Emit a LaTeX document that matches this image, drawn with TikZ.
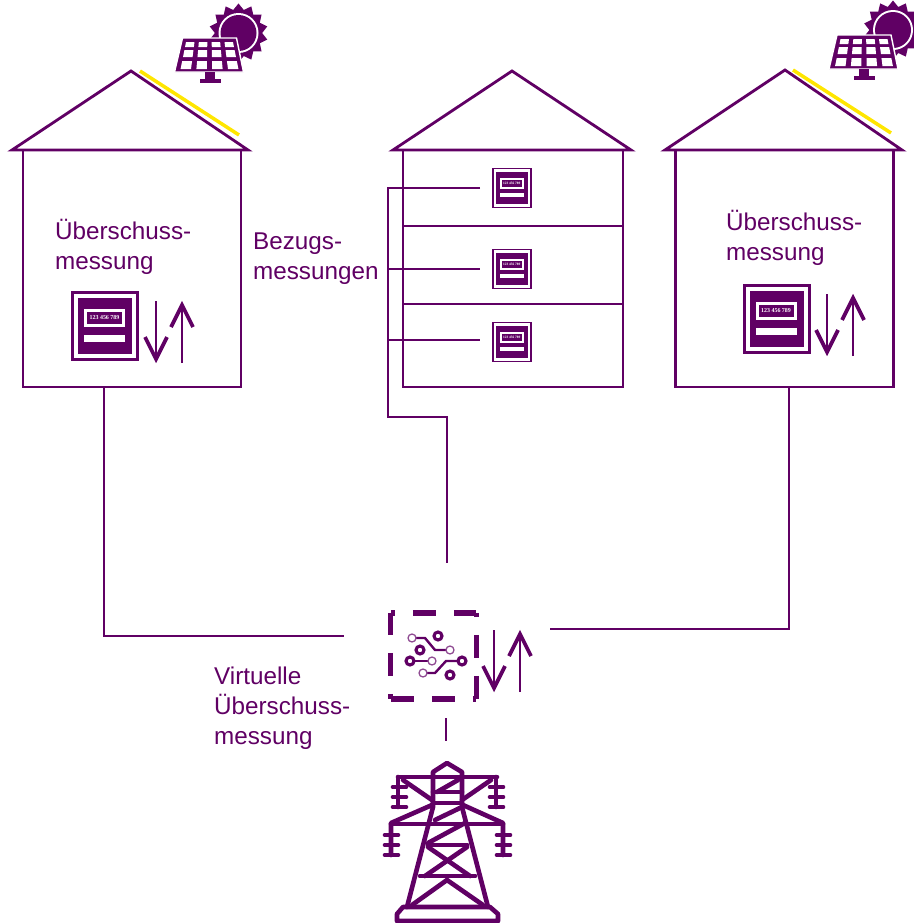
\documentclass[tikz,border=0pt]{standalone}
\usepackage{fontspec}
\setmainfont{Liberation Sans}
\newfontfamily\readoutfont{Liberation Serif}
\usetikzlibrary{shapes.geometric}
\definecolor{lila}{RGB}{96,0,100}
\definecolor{sonne}{RGB}{255,230,0}
\tikzset{
	wire/.style={draw=lila,line width=4pt},
	wall/.style={wire,rectangle,inner sep=0pt,outer sep=0pt},
	tag/.style={text=lila,align=left,anchor=west,inner sep=0pt,font=\fontsize{34.5}{42.5}\selectfont},
	mast/.style={draw=lila,line width=6.6pt,line cap=round,line join=round},
	smartdash/.style={draw=lila,line width=7.5pt,dash pattern=on 32.7pt off 25.6pt},
	meter/.pic={
		\fill [lila] (-34,35) rectangle (34,-35);
		\fill [white] (-31,32) rectangle (31,-32);
		\fill [lila] (-27,28) rectangle (27,-28);
		\fill [white] (-21,17) rectangle (20,-1);
		\fill [lila] (-18,14) rectangle (17,2);
		\node [transform shape,text=white,inner sep=0pt,font=\readoutfont\bfseries\fontsize{8.5}{8.5}\selectfont] (-readout) at (-0.5,8) {123 456 789};
		\fill [white] (-21,-9) rectangle (20,-16);
	},
	flowarrows/.pic={
		\draw [lila,line width=3.6pt] (0,0) -- (0,-60);
		\draw [lila,line width=5.4pt,line join=miter] (-11,-36) -- (0,-58) -- (11,-36);
		\draw [lila,line width=3.6pt] (26,-62) -- (26,-2);
		\draw [lila,line width=5.4pt,line join=miter] (15,-26) -- (26,-4) -- (37,-26);
	},
	solar/.pic={
		\node [star,star points=14,star point ratio=1.25,minimum size=84pt,inner sep=0pt,fill=lila] (-rays) at (29,22) {};
		\fill [white] (29,22) circle (20);
		\fill [lila] (29,22) circle (18);
		\fill [lila,draw=white,line width=2pt] (-27,17) -- (27,17) -- (34,-17) -- (-35,-17) -- cycle;
		\foreach \a/\b in {42/47,50/57,61/69}
			\foreach \c in {-2,-1,0,1}
				\fill [white] ({(\c+.17)/2*(25+.22*(\a-39))},{55-\a}) -- ({(\c+.83)/2*(25+.22*(\a-39))},{55-\a}) -- ({(\c+.83)/2*(25+.22*(\b-39))},{55-\b}) -- ({(\c+.17)/2*(25+.22*(\b-39))},{55-\b}) -- cycle;
		\fill [lila] (-5,-17) rectangle (5,-25);
		\fill [lila] (-10,-24) rectangle (11,-28);
	},
}
\begin{document}
\begin{tikzpicture}[x=0.05cm,y=0.05cm]
	\useasboundingbox (0,0) rectangle (914,-923);

	\draw [sonne,line width=5pt] (140,-71) -- (239,-135);
	\draw [sonne,line width=5pt] (793,-70) -- (891,-133);
	\draw [wire,line join=miter] (12,-150) -- (131,-71) -- (248,-150) -- cycle;
	\draw [wire,line join=miter] (393,-150) -- (512,-71) -- (631,-150) -- cycle;
	\draw [wire,line join=miter] (665,-150) -- (785,-70) -- (902,-150) -- cycle;
	\node [wall,minimum width=310pt,minimum height=337pt] (wallL) at (132,-268.5) {};
	\node [wall,minimum width=313pt,minimum height=337pt] (wallM) at (513,-268.5) {};
	\node [wall,minimum width=311pt,minimum height=337pt] (wallR) at (784.5,-268.5) {};
	\draw [wire] (403,-226) -- (623,-226);
	\draw [wire] (403,-304) -- (623,-304);

	\pic at (209.5,-55) {solar};
	\pic at (864,-52) {solar};

	\pic (meterL) at (105,-326) {meter};
	\pic (meterR) at (776.5,-319) {meter};
	\pic (meterA) [scale=0.58] at (512,-188) {meter};
	\pic (meterB) [scale=0.58] at (512,-269) {meter};
	\pic (meterC) [scale=0.58] at (512,-342) {meter};

	\pic at (156,-301) {flowarrows};
	\pic at (827,-294) {flowarrows};
	\pic at (494,-630) {flowarrows};

	\node [tag] (textL) at (55,-246.5) {Überschuss-\\messung};
	\node [tag] (textM) at (253,-259) {Bezugs-\\messungen};
	\node [tag] (textR) at (726,-238) {Überschuss-\\messung};
	\node [tag] (textV) at (214,-708) {Virtuelle\\Überschuss-\\messung};

	\coordinate (busA) at (388,-188);
	\coordinate (busB) at (388,-269);
	\coordinate (busC) at (388,-340);
	\coordinate (busD) at (388,-417);
	\coordinate (stubA) at (480,-188);
	\coordinate (stubB) at (480,-269);
	\coordinate (stubC) at (480,-340);
	\coordinate (kneeM) at (447,-417);
	\coordinate (endM) at (447,-563);
	\coordinate (kneeL) at (104,-636);
	\coordinate (endL) at (344,-636);
	\coordinate (kneeR) at (789,-629);
	\coordinate (endR) at (550,-629);
	\coordinate (gridA) at (446,-718);
	\coordinate (gridB) at (446,-741);

	\draw [wire] (stubA) -- (busA) -- (busD) -- (kneeM) -- (endM);
	\draw [wire] (busB) -- (stubB);
	\draw [wire] (busC) -- (stubC);
	\draw [wire] (wallL.south -| kneeL) -- (kneeL) -- (endL);
	\draw [wire] (wallR.south -| kneeR) -- (kneeR) -- (endR);
	\draw [wire] (gridA) -- (gridB);

	\node [rectangle,inner sep=0pt,minimum width=121pt,minimum height=122pt] (smart) at (433.5,-656) {};
	\draw [smartdash,dash phase=27pt] (smart.north west) -- (smart.north east);
	\draw [smartdash,dash phase=27pt] (smart.north east) -- (smart.south east);
	\draw [smartdash,dash phase=1.4pt] (smart.north west) -- (smart.south west);
	\draw [smartdash] (smart.south west) -- (smart.south east);

	\draw [lila,line width=3.4pt] (412,-638) -- (425,-638) -- (435,-650) -- (450,-650);
	\draw [lila,line width=3.4pt] (410,-661) -- (432,-661);
	\draw [lila,line width=3.4pt] (423,-673) -- (435,-673) -- (446,-661) -- (462,-661);
	\foreach \x/\y in {412/638,450/650,432/661,423/673}
		\draw [lila!70,fill=white,line width=1.8pt] (\x,-\y) circle (4);
	\foreach \x/\y in {438/636,420/650,410/661,462/661,450/675}
		\draw [lila,fill=white,line width=4.4pt] (\x,-\y) circle (4);

	\draw [mast] (433,-777) -- (433,-772) -- (447,-763) -- (462,-772) -- (462,-777);
	\draw [mast] (398,-777) -- (497,-777);
	\draw [mast] (398,-777) -- (398,-807);
	\draw [mast] (496,-777) -- (496,-807);
	\foreach \y in {787,797,807} {
		\draw [mast] (393,-\y) -- (406,-\y);
		\draw [mast] (490,-\y) -- (503,-\y);
	}
	\draw [mast] (403,-780) -- (432,-800);
	\draw [mast] (491,-780) -- (462,-800);
	\draw [mast] (433,-777) -- (433,-807) -- (407,-907);
	\draw [mast] (462,-777) -- (462,-807) -- (488,-907);
	\draw [mast] (433,-803) -- (462,-803);
	\draw [mast] (391,-855) -- (391,-823) -- (432,-805);
	\draw [mast] (503,-855) -- (503,-823) -- (463,-805);
	\draw [mast] (391,-824) -- (503,-824);
	\foreach \y in {835,845,855} {
		\draw [mast] (385,-\y) -- (398,-\y);
		\draw [mast] (497,-\y) -- (510,-\y);
	}
	\draw [mast] (437,-792) -- (458,-780);
	\draw [mast] (433,-792) -- (462,-792);
	\draw [mast] (435,-820) -- (462,-807);
	\draw [mast] (428,-843) -- (465,-823);
	\draw [mast] (428,-845) -- (467,-845);
	\draw [mast] (420,-876) -- (475,-876);
	\draw [mast] (428,-847) -- (470,-876);
	\draw [mast] (467,-847) -- (425,-876);
	\draw [mast] (412,-905) -- (447,-880) -- (483,-905);
	\draw [mast] (403,-907) -- (490,-907) -- (498,-914) -- (498,-921) -- (397,-921) -- (397,-914) -- cycle;
\end{tikzpicture}
\end{document}
